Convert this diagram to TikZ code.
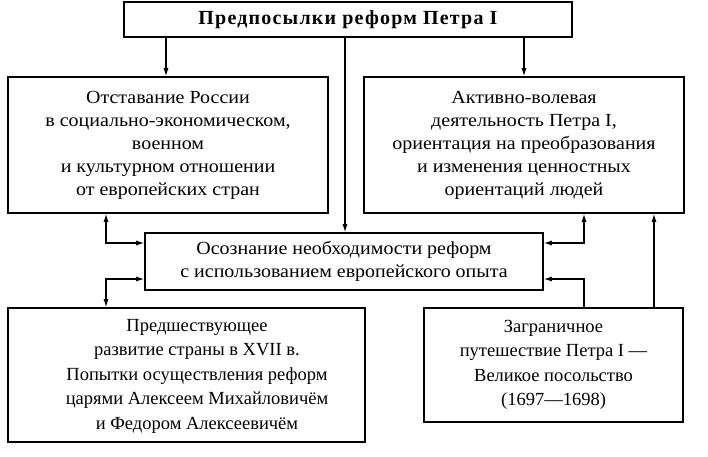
\documentclass[tikz,border=0pt]{standalone}
\usepackage{fontspec}
\setmainfont{Liberation Serif}
\newfontfamily\widefont[FakeStretch=1.08]{Liberation Serif}
\newfontfamily\titlefont[LetterSpace=6]{Liberation Serif}
\usetikzlibrary{arrows.meta}
\tikzset{
  box/.style={draw, line width=1.6pt, rectangle, align=center, inner sep=0pt},
  conn/.style={line width=1.1pt, -{Latex[length=8pt,width=5pt]}},
  conn2/.style={line width=1.1pt, {Latex[length=8pt,width=5pt]}-{Latex[length=8pt,width=5pt]}},
  uptext/.style={font=\widefont\fontsize{18.5}{23}\selectfont},
  lowtext/.style={font=\fontsize{18.5}{24.5}\selectfont},
}
\begin{document}
\begin{tikzpicture}[x=1pt,y=-1pt]
\useasboundingbox (0,0) rectangle (708,456);
\fill[white] (0,0) rectangle (708,456);
% boxes
\node[box, minimum width=448pt, minimum height=35pt, font=\titlefont\bfseries\fontsize{20}{24}\selectfont] (T) at (348,19.5) {Предпосылки реформ Петра I};
\node[box, minimum width=320pt, minimum height=136pt, uptext] (L) at (168,145) {Отставание России\\в социально-экономическом,\\военном\\и культурном отношении\\от европейских стран};
\node[box, minimum width=320pt, minimum height=136pt, uptext] (R) at (524,145) {Активно-волевая\\деятельность Петра I,\\ориентация на преобразования\\и изменения ценностных\\ориентаций людей};
\node[box, minimum width=398pt, minimum height=57pt, uptext] (M) at (344,261.5) {Осознание необходимости реформ\\с использованием европейского опыта};
\node[box, minimum width=357pt, minimum height=134pt] (LL) at (186.5,375) {};
\node[lowtext, align=center] (LLt) at (197,376) {Предшествующее\\развитие страны в XVII в.\\Попытки осуществления реформ\\царями Алексеем Михайловичём\\и Федором Алексеевичём};
\node[box, minimum width=259pt, minimum height=114pt, lowtext] (LR) at (553.5,365) {Заграничное\\путешествие Петра I —\\Великое посольство\\(1697—1698)};
% helper coordinates
\coordinate (xa) at (166,0);
\coordinate (xm) at (345,0);
\coordinate (xb) at (524,0);
\coordinate (p1) at (106,243);
\coordinate (p2) at (106,279);
\coordinate (p3) at (584,243);
\coordinate (p4) at (584,279);
\coordinate (p5) at (654,0);
% connectors
\draw[conn] (T.south -| xa) -- (L.north -| xa);
\draw[conn] (T.south -| xm) -- (M.north -| xm);
\draw[conn] (T.south -| xb) -- (R.north -| xb);
\draw[conn2] (L.south -| p1) |- (M.west |- p1);
\draw[conn2] (M.west |- p2) -| (LL.north -| p2);
\draw[conn2] (R.south -| p3) |- (M.east |- p3);
\draw[conn] (LR.north -| p4) |- (M.east |- p4);
\draw[conn] (LR.north -| p5) -- (R.south -| p5);
\end{tikzpicture}
\end{document}
